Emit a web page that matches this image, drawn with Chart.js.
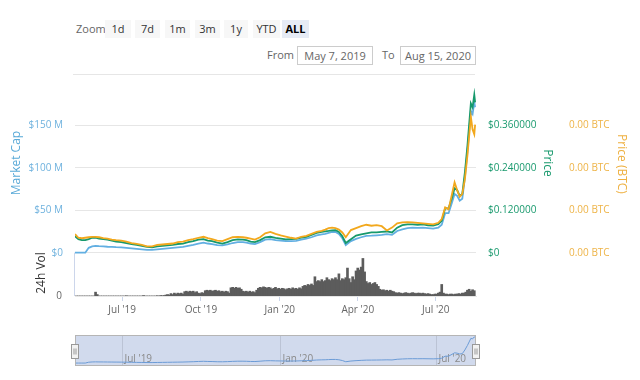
<!DOCTYPE html>
<html><head><meta charset="utf-8">
<script src="https://cdn.jsdelivr.net/npm/chart.js@4.4.1/dist/chart.umd.min.js"></script>
<style>
html,body{margin:0;padding:0;background:#fff;width:640px;height:380px;overflow:hidden;font-family:'Open Sans',sans-serif;}
#wrap{position:relative;width:640px;height:380px;}
.t{position:absolute;font-size:11px;color:#666;line-height:14px;white-space:nowrap;}
.btn{position:absolute;top:20px;height:18px;line-height:18px;font-size:11px;color:#333;background:#f7f7f7;text-align:center;}
.btn.sel{background:#e6ebf5;color:#000;font-weight:bold;}
.box{position:absolute;top:46px;height:17px;line-height:17px;border:1px solid #ccc;font-size:11px;color:#666;text-align:center;}
#sep{position:absolute;left:73px;top:74px;width:402px;height:1px;background:#e6e6e6;}
#main{position:absolute;left:0;top:70px;}
#nav{position:absolute;left:0;top:325px;}
</style></head><body>
<div id="wrap">
  <div class="t" style="left:76px;top:22px;">Zoom</div>
  <div class="btn" style="left:105px;width:26px;">1d</div>
  <div class="btn" style="left:135px;width:25px;">7d</div>
  <div class="btn" style="left:165px;width:25px;">1m</div>
  <div class="btn" style="left:195px;width:25px;">3m</div>
  <div class="btn" style="left:224px;width:24px;">1y</div>
  <div class="btn" style="left:253px;width:27px;">YTD</div>
  <div class="btn sel" style="left:282px;width:27px;">ALL</div>
  <div class="t" style="left:267px;top:48px;">From</div>
  <div class="box" style="left:297px;width:74px;">May 7, 2019</div>
  <div class="t" style="left:382px;top:48px;">To</div>
  <div class="box" style="left:400px;width:74px;">Aug 15, 2020</div>
  <div id="sep"></div>
  <canvas id="main" width="640" height="250"></canvas>
  <canvas id="nav" width="640" height="55"></canvas>
</div>
<script>
// ---- data (x = days since May 7, 2019) ----
const xTickDays = [55, 147, 239, 330, 421];
const xTickLabels = ["Jul '19", "Oct '19", "Jan '20", "Apr '20", "Jul '20"];
const navTickDays = [55, 239, 421];
const navTickLabels = ["Jul '19", "Jan '20", "Jul '20"];
const capTicks = [0, 50, 100, 150];          // $ M
const priceTicks = [0, 0.12, 0.24, 0.36];    // $
const btcTicks = [0, 1000, 2000, 3000];      // satoshi

const priceDays = [0,4,8,12,16,20,24,28,33,38,43,48,54,60,66,72,78,84,90,96,
  102,108,114,120,126,132,138,144,150,155,160,166,172,178,184,190,196,200,205,210,
  216,222,228,234,240,246,252,258,264,270,276,282,288,292,296,300,304,308,312,316,
  322,328,334,340,346,352,358,364,370,376,382,388,394,400,406,412,418,424,428,432,
  436,440,443,446,449,452,455,458,460,462,464,466,467];

const priceUsd = [0.0464,0.0382,0.0355,0.0355,0.0382,0.0423,0.0423,0.0395,0.0382,0.0368,
  0.0341,0.0314,0.0300,0.0273,0.0245,0.0218,0.0191,0.0164,0.0150,0.0177,
  0.0191,0.0205,0.0218,0.0245,0.0259,0.0300,0.0327,0.0368,0.0382,0.0341,
  0.0327,0.0286,0.0259,0.0300,0.0355,0.0374,0.0368,0.0355,0.0314,0.0300,
  0.0355,0.0436,0.0450,0.0417,0.0395,0.0374,0.0382,0.0390,0.0423,0.0450,
  0.0505,0.0559,0.0586,0.0600,0.0614,0.0633,0.0635,0.0586,0.0464,0.0273,
  0.0382,0.0483,0.0518,0.0545,0.0573,0.0573,0.0586,0.0600,0.0573,0.0709,
  0.0777,0.0799,0.0799,0.0791,0.0799,0.0777,0.0764,0.0805,0.0900,0.1255,
  0.1255,0.1555,0.1827,0.1773,0.1609,0.1664,0.2264,0.3027,0.3627,0.4227,
  0.4118,0.4473,0.4255];

const priceSat = [439,352,341,352,364,375,375,364,341,330,
  307,295,284,261,227,205,182,148,148,182,
  193,205,216,250,261,295,318,352,375,341,
  318,284,273,318,364,375,364,352,330,307,
  364,455,489,443,409,380,352,330,375,398,
  443,489,516,545,580,591,580,545,477,364,
  534,580,625,659,636,648,625,523,591,693,
  716,720,716,705,693,682,670,705,795,1068,
  1023,1386,1659,1477,1318,1386,1727,2295,2750,3205,
  2909,2795,3023];

const marketCapM = [0,0,0,0,5.7,7.4,8.0,7.6,7.4,7.0,
  6.8,6.5,6.3,5.7,5.1,4.5,4.0,3.4,3.2,4.0,
  4.5,5.1,5.7,6.3,6.8,8.0,9.1,10.8,11.9,10.8,
  10.2,8.8,8.5,9.7,11.4,12.5,12.5,11.9,10.8,10.2,
  12.5,15.3,15.9,14.8,14.2,13.6,13.6,14.0,15.3,16.5,
  18.2,20.5,21.6,22.2,23.3,24.4,24.4,22.2,17.0,8.8,
  13.6,16.3,18.2,19.9,20.1,20.5,21.0,21.9,21.0,25.6,
  27.6,29.0,29.5,29.2,29.5,29.0,28.4,29.5,33.0,46.6,
  46.6,59.1,69.3,67.0,61.4,63.6,88.6,119.3,143.2,167.0,
  163.6,177.3,171.6];

// 24h volume, one value every 2 days from day 0 (units of $100K)
const volume = [0,0,0,0,0,0,0,0,0,0,
  0,0,4,1.5,0,0,0,0,0,0,
  0,0,0,0,0,0,0,0,0,0,
  0.3,0,0,0,0,0,0,0,0,0,
  0.5,0,0,0,0,0,0,0,0.3,0,
  0.5,0.3,0.5,
  1,1.5,1,2.5,1.5,3,2,3,2.5,3,
  2,4.5,5,4,5,4.5,5,3.5,4.5,3,
  2.5,3.5,3,5.5,6,5.5,6,5,5.5,6,
  5,5.5,4.5,5,4,5,4.5,3,8.5,9,
  8,9,8,8.5,7,5,4.5,5,4,5,
  4,4.5,3.5,6,8,9,8.5,9.5,9,8,
  9,8.5,7,8,9,7.5,8,7,8,7.5,
  6.5,7.5,8,7,8.5,7.5,8,7,8.5,7.5,
  10,11,10.5,12,11,12.5,11,20,15,16,
  15,17,15,16,19,17,16,18,17,19,
  17,23,16,18,17,19,29,18,14,20,
  17,26,29,27,30,39,25,15,13,14,
  12,13,14,12,10,7,6,6.5,5.5,6,
  5,6,5,4.5,3.5,3,3.5,3,2.5,3,
  3.5,3,2.5,3,3.5,3,2.5,3,3,2.5,
  3,2.5,2,2.5,2,1.5,1.5,2,2,3,
  4,12,3,2,2,1.5,2,2,1.5,2,
  2,2.5,2,3,3,4,6,7,5,6.5,
  5.5];
const volDays = volume.map((_, i) => i * 2);

const pts = (xs, ys) => xs.map((x, i) => ({x: x, y: ys[i]}));
const FONT = "'Open Sans', sans-serif";
Chart.defaults.font.family = FONT;

function rotText(ctx, txt, x, y, ang, color) {
  ctx.save();
  ctx.translate(x, y);
  ctx.rotate(ang);
  ctx.fillStyle = color;
  ctx.font = "12px " + FONT;
  ctx.textAlign = 'center';
  ctx.textBaseline = 'middle';
  ctx.fillText(txt, 0, 0);
  ctx.restore();
}

const mainDeco = {
  id: 'mainDeco',
  afterDraw(chart) {
    const ctx = chart.ctx, a = chart.chartArea;
    const y0 = chart.scales.yCap.getPixelForValue(0);
    const yv = chart.scales.yVol.getPixelForValue(0);
    ctx.save();
    ctx.strokeStyle = '#ccd6eb';
    ctx.lineWidth = 1;
    ctx.beginPath();
    ctx.moveTo(Math.round(a.left) - 0.5, y0);
    ctx.lineTo(Math.round(a.left) - 0.5, a.bottom);
    ctx.stroke();
    ctx.fillStyle = '#666';
    ctx.font = "10px " + FONT;
    ctx.textAlign = 'right';
    ctx.textBaseline = 'middle';
    ctx.fillText('0', a.left - 13, yv);
    ctx.restore();
    rotText(ctx, 'Market Cap', 17, 93, -Math.PI / 2, '#5aaad8');
    rotText(ctx, '24h Vol', 42, 203, -Math.PI / 2, '#333');
    rotText(ctx, 'Price', 547, 93, Math.PI / 2, '#1a9a6e');
    rotText(ctx, 'Price (BTC)', 621, 94, Math.PI / 2, '#eeb040');
  }
};

new Chart(document.getElementById('main'), {
  type: 'line',
  data: {datasets: [
    {type: 'bar', data: pts(volDays, volume), yAxisID: 'yVol', xAxisID: 'x',
      backgroundColor: '#5c5c5c', barThickness: 2, grouped: false, order: 4},
    {label: 'Market Cap', data: pts(priceDays, marketCapM), yAxisID: 'yCap',
      borderColor: '#62afe2', borderWidth: 1.8, pointRadius: 0, tension: 0, order: 3},
    {label: 'Price', data: pts(priceDays, priceUsd), yAxisID: 'yPrice',
      borderColor: '#16996c', borderWidth: 1.8, pointRadius: 0, tension: 0, order: 2},
    {label: 'Price (BTC)', data: pts(priceDays, priceSat), yAxisID: 'yBtc',
      borderColor: '#f2a81d', borderWidth: 1.8, pointRadius: 0, tension: 0, order: 1}
  ]},
  options: {
    responsive: false, animation: false,
    plugins: {legend: {display: false}, tooltip: {enabled: false}},
    layout: {padding: {top: 10, left: 0, right: 0, bottom: 0}},
    scales: {
      x: {type: 'linear', min: 0, max: 468, offset: false,
        afterBuildTicks: s => { s.ticks = xTickDays.map(v => ({value: v})); },
        ticks: {autoSkip: false, maxRotation: 0, color: '#666', font: {size: 10}, padding: 3,
          callback: v => xTickLabels[xTickDays.indexOf(v)]},
        grid: {drawOnChartArea: false, drawTicks: true, tickLength: 5, color: '#ccd6eb', offset: false},
        border: {color: '#e6e6e6'},
        afterFit: s => { s.height = 24; }},
      yCap: {position: 'left', weight: 1, min: -51.136, max: 194.318,
        afterBuildTicks: s => { s.ticks = capTicks.map(v => ({value: v})); },
        ticks: {color: '#6fb2de', font: {size: 10}, padding: 12,
          callback: v => v === 0 ? '$0' : '$' + v + ' M'},
        grid: {color: '#e6e6e6', drawTicks: false},
        border: {display: false},
        afterFit: s => { s.width = 75; }},
      yVol: {display: false, min: 0, max: 216},
      yPrice: {position: 'right', weight: 1, min: -0.122727, max: 0.466364,
        afterBuildTicks: s => { s.ticks = priceTicks.map(v => ({value: v})); },
        ticks: {color: '#1a9a6e', font: {size: 10}, padding: 12,
          callback: v => v === 0 ? '$0' : '$' + v.toFixed(6)},
        grid: {display: false, drawTicks: false},
        border: {display: false},
        afterFit: s => { s.width = 90; }},
      yBtc: {position: 'right', weight: 2, min: -1022.7, max: 3886.4,
        afterBuildTicks: s => { s.ticks = btcTicks.map(v => ({value: v})); },
        ticks: {color: '#eeb448', font: {size: 10}, padding: 3,
          callback: v => (v / 1e8).toFixed(2) + ' BTC'},
        grid: {display: false, drawTicks: false},
        border: {display: false},
        afterFit: s => { s.width = 74; }}
    }
  },
  plugins: [mainDeco]
});

const navDeco = {
  id: 'navDeco',
  beforeDatasetsDraw(chart) {
    const ctx = chart.ctx, a = chart.chartArea, x = chart.scales.x;
    ctx.save();
    ctx.fillStyle = 'rgba(102,133,194,0.3)';
    ctx.fillRect(a.left, a.top, a.right - a.left, a.bottom - a.top);
    navTickDays.forEach((d, i) => {
      const px = Math.round(x.getPixelForValue(d)) + 0.5;
      ctx.strokeStyle = 'rgba(0,0,0,0.10)';
      ctx.lineWidth = 1;
      ctx.beginPath(); ctx.moveTo(px, a.top); ctx.lineTo(px, a.bottom); ctx.stroke();
      ctx.fillStyle = '#8a8a8a';
      ctx.font = "10px " + FONT;
      ctx.textAlign = 'left';
      ctx.textBaseline = 'middle';
      ctx.fillText(navTickLabels[i], px + 2, a.bottom - 7);
    });
    ctx.restore();
  },
  afterDraw(chart) {
    const ctx = chart.ctx, a = chart.chartArea;
    ctx.save();
    ctx.strokeStyle = '#b5b5b5';
    ctx.lineWidth = 1;
    ctx.strokeRect(Math.round(a.left) + 0.5, Math.round(a.top) + 0.5,
      Math.round(a.right - a.left) - 1, Math.round(a.bottom - a.top) - 1);
    [a.left, a.right].forEach(cx => {
      const hx = Math.round(cx) - 3.5, hy = 19.5;
      ctx.fillStyle = '#f2f2f2';
      ctx.strokeStyle = '#999';
      ctx.fillRect(hx, hy, 7, 14);
      ctx.strokeRect(hx, hy, 7, 14);
      ctx.beginPath();
      ctx.moveTo(hx + 2.5, hy + 4); ctx.lineTo(hx + 2.5, hy + 10);
      ctx.moveTo(hx + 4.5, hy + 4); ctx.lineTo(hx + 4.5, hy + 10);
      ctx.stroke();
    });
    ctx.restore();
  }
};

new Chart(document.getElementById('nav'), {
  type: 'line',
  data: {datasets: [{data: pts(priceDays, marketCapM), borderColor: '#6b9bd6', borderWidth: 1,
    pointRadius: 0, tension: 0, fill: false}]},
  options: {
    responsive: false, animation: false,
    plugins: {legend: {display: false}, tooltip: {enabled: false}},
    layout: {padding: {left: 75, right: 164, top: 10, bottom: 14}},
    scales: {x: {type: 'linear', display: false, min: 0, max: 468},
             y: {display: false, min: -20, max: 190}}
  },
  plugins: [navDeco]
});
</script>
</body></html>
